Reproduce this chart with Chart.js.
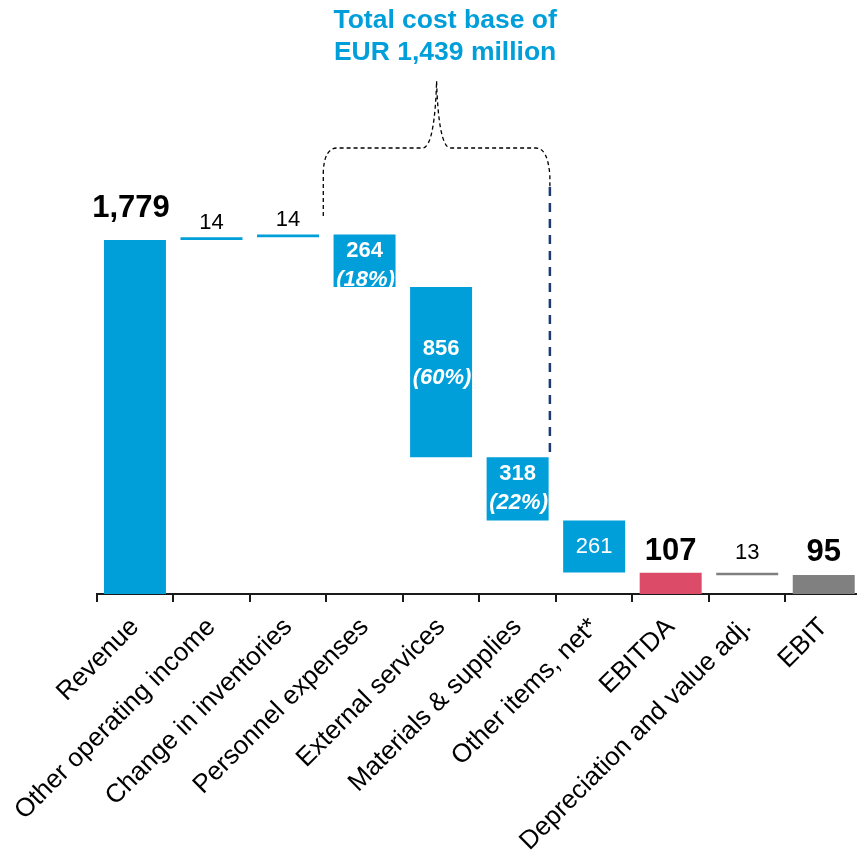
<!DOCTYPE html>
<html>
<head>
<meta charset="utf-8">
<script src="https://cdn.jsdelivr.net/npm/chart.js@4"></script>
<style>
  html, body { margin: 0; padding: 0; background: #fff; overflow: hidden; }
  #wrap { position: relative; width: 857px; height: 855px; overflow: hidden; }
  canvas { display: block; }
</style>
</head>
<body>
<div id="wrap"><canvas id="wf" width="862" height="855"></canvas></div>
<script>
// Waterfall data (EUR million)
const categories = ['Revenue', 'Other operating income', 'Change in inventories', 'Personnel expenses',
  'External services', 'Materials & supplies', 'Other items, net*', 'EBITDA',
  'Depreciation and value adj.', 'EBIT'];
const values = [1779, 14, 14, -264, -856, -318, -261, 107, -13, 95];
const isTotal = [true, false, false, false, false, false, false, true, false, true];
const valueLabels = ['1,779', '14', '14', '264', '856', '318', '261', '107', '13', '95'];
const shareLabels = ['', '', '', '(18%)', '(60%)', '(22%)', '', '', '', ''];
const costBaseTitle = ['Total cost base of', 'EUR 1,439 million'];

const BLUE = '#009fda';
const RED = '#dc4b68';
const GREY = '#808080';
const NAVY = '#1f3a6e';
const FONT = 'Arial, "Liberation Sans", sans-serif';

const barColors = [BLUE, BLUE, BLUE, BLUE, BLUE, BLUE, BLUE, RED, GREY, GREY];
// how each value label is drawn; gap above bar (outside labels) or shift from bar middle (inside labels)
const labelStyle = ['big', 'small', 'small', 'inside', 'inside', 'inside', 'insidePlain', 'big', 'small', 'big'];
const labelGap = [23, 8, 8, 4, -9, -1, 0, 13, 14, 14];

// build floating ranges from running total
let running = 0;
const ranges = values.map((v, i) => {
  if (isTotal[i]) { running = v; return [0, v]; }
  const r = [running, running + v];
  running += v;
  return r;
});

const valueLabelPlugin = {
  id: 'valueLabels',
  afterDatasetsDraw(chart) {
    const ctx = chart.ctx;
    const meta = chart.getDatasetMeta(0);
    ctx.save();
    ctx.textAlign = 'center';
    meta.data.forEach((bar, i) => {
      const top = Math.min(bar.y, bar.base);
      const bottom = Math.max(bar.y, bar.base);
      const mid = (top + bottom) / 2 + (labelStyle[i].startsWith('inside') ? labelGap[i] : 0);
      const st = labelStyle[i];
      if (st === 'big' || st === 'small') {
        ctx.fillStyle = '#000';
        ctx.font = st === 'big' ? 'bold 31px ' + FONT : '22px ' + FONT;
        ctx.textBaseline = 'alphabetic';
        ctx.fillText(valueLabels[i], i === 0 ? bar.x - 4 : bar.x, top - labelGap[i]);
      } else if (st === 'inside') {
        ctx.fillStyle = '#fff';
        ctx.textBaseline = 'middle';
        ctx.font = 'bold 22px ' + FONT;
        ctx.fillText(valueLabels[i], bar.x, mid - 14);
        ctx.font = 'italic bold 22px ' + FONT;
        ctx.fillText(shareLabels[i], bar.x + 1, mid + 15);
      } else {
        ctx.fillStyle = '#fff';
        ctx.textBaseline = 'middle';
        ctx.font = '22px ' + FONT;
        ctx.fillText(valueLabels[i], bar.x, mid);
      }
    });
    ctx.restore();
  }
};

// brace over the three cost bars plus the dashed separator
const bracePlugin = {
  id: 'costBrace',
  afterDraw(chart) {
    const ctx = chart.ctx;
    const xs = chart.scales.x;
    const ys = chart.scales.y;
    const border = (i) => (xs.getPixelForValue(i) + xs.getPixelForValue(i + 1)) / 2;
    const xL = border(2) - 3;
    const xR = border(5) - 6;
    const tipX = (xL + xR) / 2;
    const yH = 148, yTip = 81;

    ctx.save();
    ctx.strokeStyle = '#000';
    ctx.lineWidth = 1.3;
    ctx.setLineDash([4, 3]);
    ctx.beginPath();
    ctx.moveTo(xL, 216);
    ctx.lineTo(xL, yH + 24);
    ctx.quadraticCurveTo(xL + 1, yH, xL + 14, yH);
    ctx.lineTo(tipX - 14, yH);
    ctx.bezierCurveTo(tipX - 5, yH, tipX - 1, yH - 30, tipX, yTip);
    ctx.bezierCurveTo(tipX + 1, yH - 30, tipX + 5, yH, tipX + 14, yH);
    ctx.lineTo(xR - 14, yH);
    ctx.quadraticCurveTo(xR - 2, yH, xR, yH + 28);
    ctx.lineTo(xR, 187);
    ctx.stroke();

    ctx.strokeStyle = NAVY;
    ctx.lineWidth = 2.5;
    ctx.setLineDash([9, 7]);
    ctx.beginPath();
    ctx.moveTo(xR, 187);
    ctx.lineTo(xR, ys.getPixelForValue(ranges[5][0]));
    ctx.stroke();
    ctx.setLineDash([]);

    ctx.fillStyle = BLUE;
    ctx.font = 'bold 26.5px ' + FONT;
    ctx.textAlign = 'center';
    ctx.textBaseline = 'alphabetic';
    const tx = xs.getPixelForValue(4) + 4;
    ctx.fillText(costBaseTitle[0], tx, 28);
    ctx.fillText(costBaseTitle[1], tx, 60);
    ctx.restore();
  }
};

new Chart(document.getElementById('wf'), {
  type: 'bar',
  data: {
    labels: categories,
    datasets: [{
      data: ranges,
      backgroundColor: barColors,
      borderWidth: 0,
      borderSkipped: false,
      barPercentage: 0.81,
      categoryPercentage: 1.0
    }]
  },
  options: {
    responsive: false,
    animation: false,
    devicePixelRatio: 1,
    layout: { padding: { left: 96.7, right: 0, top: 0, bottom: 0 } },
    plugins: {
      legend: { display: false },
      tooltip: { enabled: false }
    },
    scales: {
      y: { display: false, min: 0, max: 2985 },
      x: {
        offset: true,
        border: { display: true, color: '#1a1a1a', width: 2 },
        grid: { display: true, offset: true, drawOnChartArea: false, drawTicks: true, tickLength: 8, color: '#1a1a1a', lineWidth: 2 },
        ticks: {
          autoSkip: false,
          maxRotation: 45,
          minRotation: 45,
          padding: 10,
          color: '#000',
          font: { family: FONT, size: 26 }
        },
        afterFit(scale) {
          scale.height = 261;
          scale.paddingLeft = 0;
          scale.paddingRight = 0;
        }
      }
    }
  },
  plugins: [valueLabelPlugin, bracePlugin]
});
</script>
</body>
</html>
